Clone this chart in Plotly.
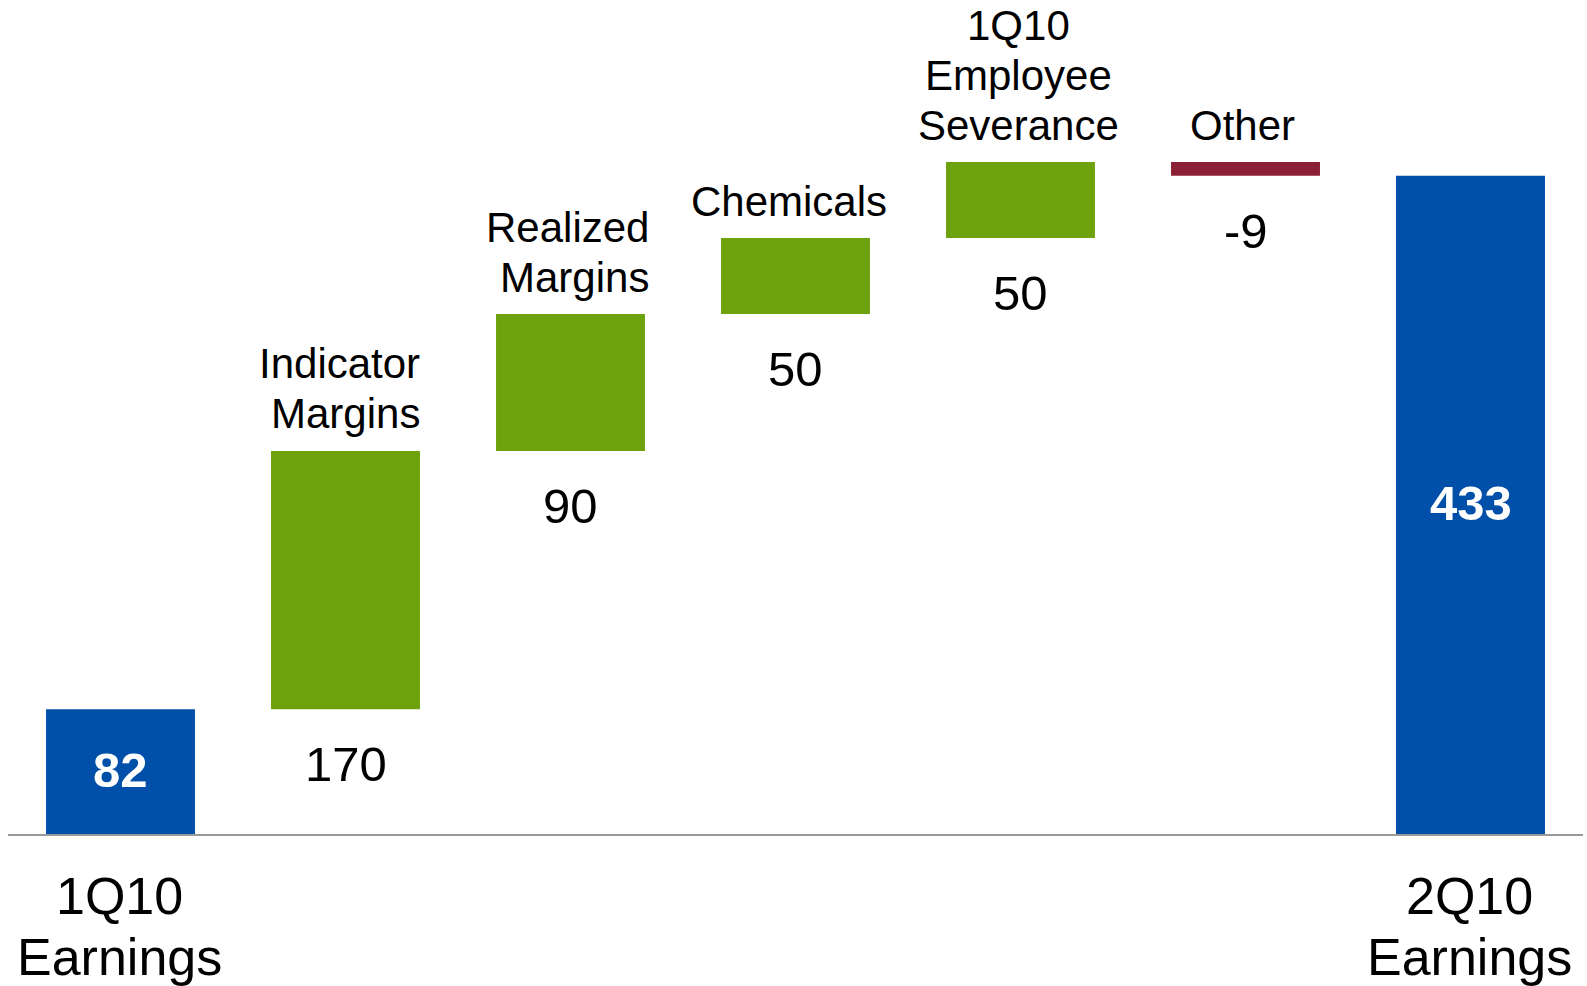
import plotly.graph_objects as go

categories = ["1Q10<br>Earnings", "Indicator<br>Margins", "Realized<br>Margins", "Chemicals",
              "1Q10<br>Employee<br>Severance", "Other", "2Q10<br>Earnings"]
values = [82, 170, 90, 50, 50, -9, 433]
measures = ["absolute", "relative", "relative", "relative", "relative", "relative", "total"]
value_text = ["82", "170", "90", "50", "50", "-9", "433"]

BLUE = "#0050AA"
GREEN = "#6EA20D"
RED = "#8B2035"
FONT = "Liberation Sans, Arial, sans-serif"

fig = go.Figure(go.Waterfall(
    x=categories,
    y=values,
    measure=measures,
    increasing=dict(marker=dict(color=GREEN)),
    decreasing=dict(marker=dict(color=RED)),
    totals=dict(marker=dict(color=BLUE)),
    connector=dict(visible=False),
    hoverinfo="skip",
))

label_xshift = {1: 76, 2: 80, 3: -7, 4: -2, 5: -3}

annotations = []
running = 0
for i, (cat, v, m) in enumerate(zip(categories, values, measures)):
    lines = cat.split("<br>")
    if m in ("absolute", "total"):
        running = v if m == "absolute" else running
        annotations.append(dict(x=cat, y=running / 2, text="<b>%s</b>" % value_text[i],
                                showarrow=False, xanchor="center", yanchor="middle", yshift=2,
                                font=dict(family=FONT, size=49, color="white")))
        for k, ln in enumerate(lines):
            annotations.append(dict(x=cat, y=0, text=ln, showarrow=False,
                                    xanchor="center", yanchor="middle",
                                    yshift=-62 - 61 * k, xshift=-1,
                                    font=dict(family=FONT, size=52, color="black")))
    else:
        start = running
        running = running + v
        top = max(start, running)
        bottom = min(start, running)
        annotations.append(dict(x=cat, y=bottom, text=value_text[i], showarrow=False,
                                xanchor="center", yanchor="middle", yshift=-55,
                                font=dict(family=FONT, size=49, color="black")))
        right_aligned = i in (1, 2)
        n = len(lines)
        for k, ln in enumerate(lines):
            a = dict(x=cat, y=top, text=ln, showarrow=False, yanchor="middle",
                     yshift=37 + 50 * (n - 1 - k), xshift=label_xshift.get(i, 0),
                     xanchor="right" if right_aligned else "center",
                     font=dict(family=FONT, size=42, color="black"))
            annotations.append(a)

fig.update_layout(
    width=1587, height=986,
    margin=dict(l=8, r=4, t=0, b=152),
    paper_bgcolor="white", plot_bgcolor="white",
    showlegend=False,
    waterfallgap=0.338,
    xaxis=dict(showticklabels=False, showgrid=False, zeroline=False, ticks="",
               showline=True, linecolor="#999999", linewidth=2, range=[-0.5, 6.5],
               fixedrange=True),
    yaxis=dict(visible=False, range=[0, 548.6], showgrid=False, zeroline=False, fixedrange=True),
    annotations=annotations,
)

fig.write_html("out.html", config={"displayModeBar": False})
